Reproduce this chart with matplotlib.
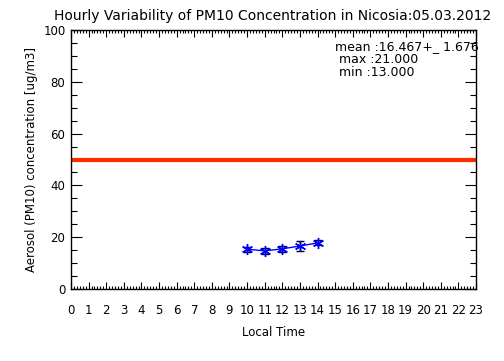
import numpy as np
import matplotlib
matplotlib.use("Agg")
import matplotlib.pyplot as plt
from matplotlib.ticker import MultipleLocator

# hourly PM10 means with spread
hours = [10, 11, 12, 13, 14]
pm10 = [15.4, 14.7, 15.5, 16.6, 17.8]
pm10_err = [1.0, 1.2, 1.2, 2.1, 1.0]
limit = 50
stats_text = ["mean :16.467+_ 1.676", " max :21.000", " min :13.000"]
title = "Hourly Variability of PM10 Concentration in Nicosia:05.03.2012"

plt.rcParams["font.family"] = "DejaVu Sans"
fig = plt.figure(figsize=(5.04, 3.61), dpi=100)
ax = fig.add_axes([71 / 504, 72 / 361, 405 / 504, 259 / 361])

#limit line
ax.axhline(limit, color="#ff2a00", lw=3, zorder=2)

#data with error bars
ax.errorbar(hours, pm10, yerr=pm10_err, fmt="none", ecolor="black",
            elinewidth=1, capsize=3, capthick=1, zorder=3)
ax.plot(hours, pm10, color="blue", lw=1, marker=(6, 2, 0), ms=8,
        mec="blue", mew=1, zorder=4)

ax.set_xlim(0, 23)
ax.set_ylim(0, 100)
ax.set_xticks(range(24))
ax.xaxis.set_minor_locator(MultipleLocator(1 / 6))
ax.yaxis.set_major_locator(MultipleLocator(20))
ax.yaxis.set_minor_locator(MultipleLocator(5))
ax.tick_params(which="both", direction="in", top=True, right=True, width=0.8)
ax.tick_params(axis="x", which="major", length=5, pad=11, labelsize=8.5)
ax.tick_params(axis="x", which="minor", length=2.5)
ax.tick_params(axis="y", which="major", length=8, pad=4, labelsize=8.5)
ax.tick_params(axis="y", which="minor", length=4)
for s in ax.spines.values():
    s.set_linewidth(1)

ax.set_xlabel("Local Time", fontsize=8.5, labelpad=6)
ax.set_ylabel("Aerosol (PM10) concentration [ug/m3]", fontsize=8.5, labelpad=4)
fig.text(0.54, 0.955, title, ha="center", va="center", fontsize=10)

for i, line in enumerate(stats_text):
    ax.text(0.652, 0.935 - i * 0.05, line, transform=ax.transAxes,
            fontsize=9, ha="left", va="center")

fig.savefig("out.png", dpi=100)
